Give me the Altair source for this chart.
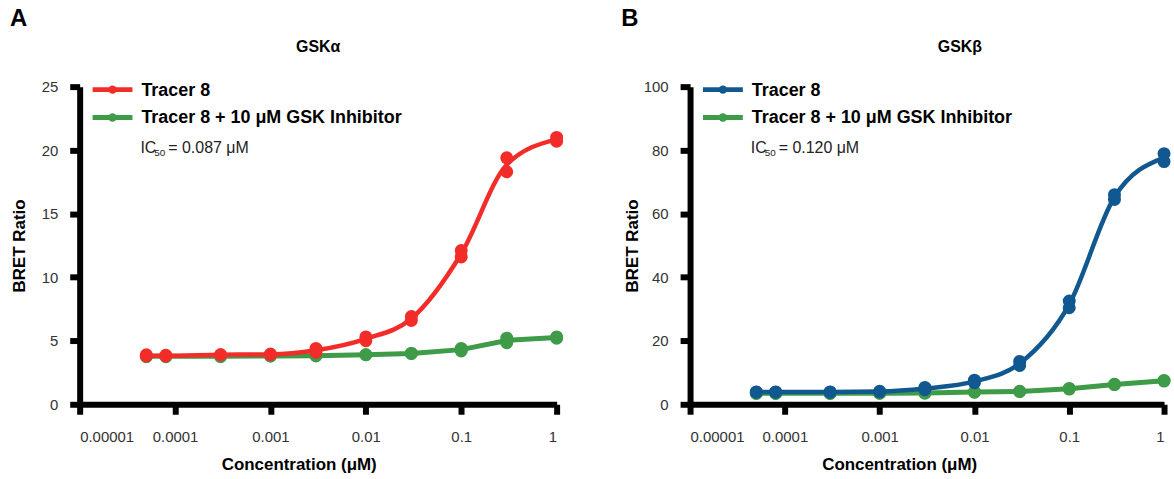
import altair as alt
import pandas as pd

# ---- data ----
conc = [0.00005, 0.00008, 0.0003, 0.001, 0.003, 0.01, 0.03, 0.1, 0.3, 1.0]

# Panel A (GSKα) – two replicates per concentration
a_tracer_r1 = [3.8, 3.8, 3.9, 3.95, 4.4, 5.3, 6.9, 12.1, 19.4, 21.0]
a_tracer_r2 = [3.9, 3.85, 3.9, 3.9, 4.1, 5.0, 6.6, 11.6, 18.3, 20.7]
a_inhib_r1 = [3.8, 3.8, 3.8, 3.8, 3.85, 3.9, 4.0, 4.4, 5.2, 5.3]
a_inhib_r2 = [3.75, 3.75, 3.75, 3.8, 3.8, 3.9, 4.0, 4.2, 4.85, 5.2]

# Panel B (GSKβ)
b_tracer_r1 = [3.9, 3.9, 3.9, 4.1, 5.3, 7.6, 13.5, 32.5, 66.0, 78.9]
b_tracer_r2 = [3.8, 3.8, 3.8, 3.9, 4.6, 6.8, 12.2, 30.4, 64.5, 76.4]
b_inhib_r1 = [3.5, 3.5, 3.5, 3.5, 3.6, 3.9, 4.1, 5.0, 6.3, 7.5]
b_inhib_r2 = [3.4, 3.4, 3.4, 3.5, 3.5, 3.8, 4.0, 4.8, 6.2, 7.3]

x_ticks = [0.00001, 0.0001, 0.001, 0.01, 0.1, 1]
x_tick_labels = ["0.00001", "0.0001", "0.001", "0.01", "0.1", "1"]

S1 = "Tracer 8"
S2 = "Tracer 8 + 10 μM GSK Inhibitor"

RED = "#f22d29"
BLUE = "#10588f"
GREEN = "#3e9b47"
FONT = "Liberation Sans"


def long_table(r1, r2, series):
    rows = []
    for c, v in zip(conc, r1):
        rows.append({"conc": c, "value": v, "series": series})
    for c, v in zip(conc, r2):
        rows.append({"conc": c, "value": v, "series": series})
    return pd.DataFrame(rows)


label_expr = "{" + ",".join(
    f"'{v:g}':'{l}'" for v, l in zip(x_ticks, x_tick_labels)) + "}"

AXIS_STYLE = dict(domainColor="#000", domainWidth=6, tickColor="#000",
                  tickWidth=6, tickSize=10,
                  labelFont=FONT, labelFontSize=15, labelColor="#333",
                  titleFont=FONT, titleFontSize=17, titleFontWeight="bold",
                  titleColor="#000", grid=False)


def panel(tr1, tr2, ir1, ir2, main_color, ymax, ystep, title, letter,
          ic50, W, H, ytitle_x, xtitle_x, title_dx, letter_dx):
    df_t = long_table(tr1, tr2, S1)
    df_i = long_table(ir1, ir2, S2)

    xs = alt.Scale(type="log", domain=[0.00001, 1])
    ys = alt.Scale(domain=[0, ymax], nice=False)

    x_axis = alt.Axis(
        values=x_ticks, labelExpr=f"{label_expr}[format(datum.value, 'g')] || datum.label",
        format="~f", labelPadding=15,
        title="Concentration (μM)", titleX=xtitle_x, titleY=60,
        titleBaseline="middle", titleAlign="center", **AXIS_STYLE)
    y_axis = alt.Axis(
        values=list(range(0, ymax + 1, ystep)), labelPadding=12,
        title="BRET Ratio", titleX=ytitle_x, titleY=H / 2,
        titleAngle=-90, titleBaseline="middle", titleAlign="center",
        **AXIS_STYLE)

    def curve(df, color, interp, sw):
        return alt.Chart(df).mark_line(
            color=color, strokeWidth=sw, interpolate=interp).encode(
            x=alt.X("conc:Q", scale=xs, axis=x_axis),
            y=alt.Y("mean(value):Q", scale=ys, axis=y_axis),
        )

    def pts(df, color):
        return alt.Chart(df).mark_circle(
            color=color, size=170, opacity=1).encode(
            x=alt.X("conc:Q", scale=xs, axis=x_axis),
            y=alt.Y("value:Q", scale=ys, axis=y_axis),
        )

    one = pd.DataFrame({"k": [0]})

    def legend_entry(name, color, y, sw):
        line = alt.Chart(one).mark_rule(color=color, strokeWidth=sw).encode(
            x=alt.value(13), x2=alt.value(53), y=alt.value(y))
        dot = alt.Chart(one).mark_circle(color=color, size=70, opacity=1).encode(
            x=alt.value(33), y=alt.value(y))
        txt = alt.Chart(one).mark_text(
            text=name, align="left", baseline="middle", font=FONT,
            fontWeight="bold", fontSize=18, color="#000").encode(
            x=alt.value(62), y=alt.value(y + 1))
        return [line, dot, txt]

    ic_a = alt.Chart(one).mark_text(
        text="IC", align="left", baseline="middle", font=FONT,
        fontSize=16, color="#222").encode(x=alt.value(61), y=alt.value(62))
    ic_b = alt.Chart(one).mark_text(
        text="50", align="left", baseline="middle", font=FONT,
        fontSize=10, color="#222").encode(x=alt.value(75), y=alt.value(67))
    ic_c = alt.Chart(one).mark_text(
        text=f"= {ic50} μM", align="left", baseline="middle", font=FONT,
        fontSize=16, color="#222").encode(x=alt.value(89), y=alt.value(62))

    ttl = alt.Chart(one).mark_text(
        text=title, align="center", baseline="middle", font=FONT,
        fontWeight="bold", fontSize=16, color="#000").encode(
        x=alt.value(W / 2 + title_dx), y=alt.value(-40))
    let = alt.Chart(one).mark_text(
        text=letter, align="left", baseline="middle", font=FONT,
        fontWeight="bold", fontSize=24, color="#000").encode(
        x=alt.value(letter_dx), y=alt.value(-68))

    layers = [
        curve(df_i, GREEN, "linear", 5),
        pts(df_i, GREEN),
        curve(df_t, main_color, "monotone", 4.5),
        pts(df_t, main_color),
    ]
    layers += legend_entry(S1, main_color, 3, 5)
    layers += legend_entry(S2, GREEN, 31, 5)
    layers += [ic_a, ic_b, ic_c, ttl, let]

    return alt.layer(*layers).properties(width=W, height=H)


pA = panel(a_tracer_r1, a_tracer_r2, a_inhib_r1, a_inhib_r2, RED, 25, 5,
           "GSKα", "A", "0.087", 479, 319, -60, 220, 0, -70)
pB = panel(b_tracer_r1, b_tracer_r2, b_inhib_r1, b_inhib_r2, BLUE, 100, 20,
           "GSKβ", "B", "0.120", 476, 319, -58, 210, 33, -69)

chart = alt.hconcat(pA, pB, spacing=55).properties(
    padding={"left": 10, "top": 6, "right": 0, "bottom": 0}
).configure_view(stroke=None).configure_axis(
    domainColor="#000", domainWidth=6, tickColor="#000", tickWidth=6)

chart.save("out.html", embed_options={"renderer": "svg", "actions": False})
